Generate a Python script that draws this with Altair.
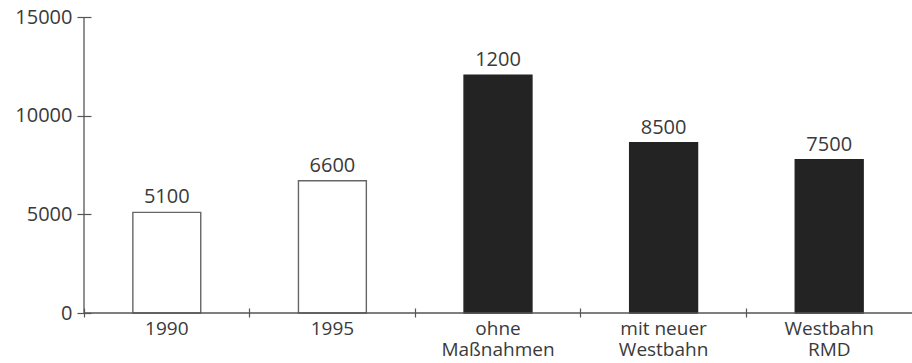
import altair as alt
import pandas as pd

categories = ["1990", "1995", "ohne\nMaßnahmen", "mit neuer\nWestbahn", "Westbahn\nRMD"]
values = [5100, 6700, 12050, 8630, 7770]
value_labels = ["5100", "6600", "1200", "8500", "7500"]
kinds = ["Ist", "Ist", "Prognose", "Prognose", "Prognose"]
y_ticks = [0, 5000, 10000, 15000]
y_max = 15000

df = pd.DataFrame({"cat": categories, "value": values, "label": value_labels, "kind": kinds})
axis_df = pd.DataFrame({"lo": [0], "hi": [y_max]})

FONT = "Open Sans"
TXT = "#3a3a3a"
LINE = "#555555"
W, H = 828, 296

x = alt.X(
    "cat:N", sort=categories, title=None,
    scale=alt.Scale(paddingInner=0, paddingOuter=0),
    axis=alt.Axis(
        bandPosition=0, labelAngle=0,
        labelExpr="split(datum.label, '\\n')", labelLineHeight=21,
        domain=False, tickSize=9, offset=-5, labelPadding=2,
        tickColor=LINE, tickWidth=1.2, labelFont=FONT, labelFontSize=19,
        labelColor=TXT, labelBaseline="top",
    ),
)
y = alt.Y(
    "value:Q", title=None,
    scale=alt.Scale(domain=[0, y_max], nice=False),
    axis=alt.Axis(
        values=y_ticks, format="d", domain=False, grid=False, tickSize=14, offset=-7,
        labelPadding=5, tickColor=LINE, tickWidth=1.2, labelFont=FONT,
        labelFontSize=20, labelColor=TXT,
    ),
)

bars = alt.Chart(df).mark_bar(width={"band": 0.41}, strokeWidth=1.4).encode(
    x=x, y=y,
    fill=alt.Fill("kind:N", scale=alt.Scale(domain=["Ist", "Prognose"], range=["#ffffff", "#232323"]), legend=None),
    stroke=alt.Stroke("kind:N", scale=alt.Scale(domain=["Ist", "Prognose"], range=["#666666", "#232323"]), legend=None),
)

labels = alt.Chart(df).mark_text(dy=-5, baseline="bottom", font=FONT, fontSize=20, color=TXT).encode(
    x=x, y=y, text="label:N"
)

x_line = alt.Chart(axis_df).mark_rule(color=LINE, strokeWidth=1.3).encode(y=alt.Y("lo:Q"))
y_line = alt.Chart(axis_df).mark_rule(color=LINE, strokeWidth=1.3).encode(
    x=alt.value(0), y=alt.Y("lo:Q"), y2="hi:Q"
)

chart = alt.layer(bars, labels, x_line, y_line).properties(
    width=W, height=H, autosize="none",
    padding={"left": 84, "top": 17, "right": 0, "bottom": 50},
).configure_view(stroke=None)

chart.save("out.html", embed_options={"renderer": "svg", "actions": False})
